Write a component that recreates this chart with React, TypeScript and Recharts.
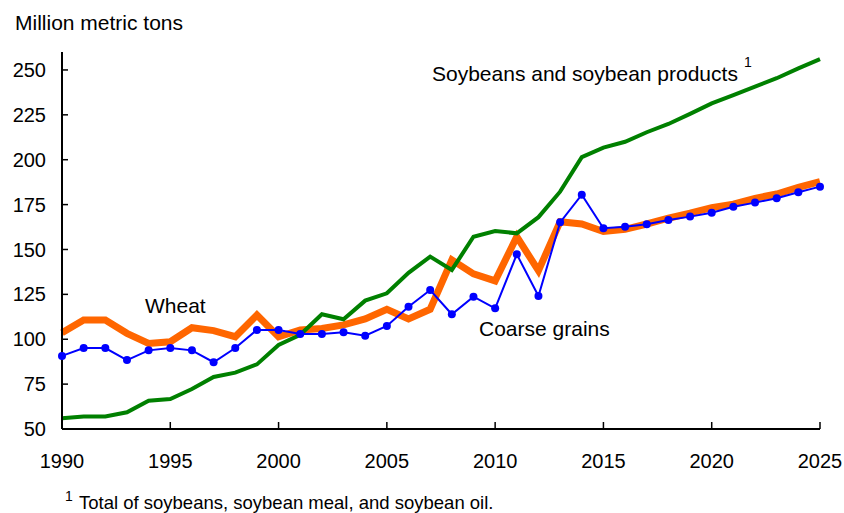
import React from "react";
import { LineChart, Line, XAxis, YAxis } from "recharts";

const years = [1990,1991,1992,1993,1994,1995,1996,1997,1998,1999,2000,2001,2002,2003,2004,2005,2006,2007,2008,2009,2010,2011,2012,2013,2014,2015,2016,2017,2018,2019,2020,2021,2022,2023,2024,2025];

const soybeans = [56,57,57,59.3,65.8,66.7,72.3,79,81.4,86,96.8,102.5,113.9,111.1,121.5,125.6,137,146,138.6,157.1,160.3,159,168,182.2,201.4,206.7,210,215.3,219.9,225.5,231.4,236,240.7,245.4,250.9,256];

const wheat = [103.6,110.7,110.7,103.3,97.7,98.6,106.4,104.8,101.4,113.5,101.4,105.2,106,108,111.3,116.7,111.3,116.7,144.2,136.4,132.5,157.1,138.2,165.5,164.2,160,161.2,164.2,167.4,170.2,173.3,175.2,178.5,180.9,184.6,187.8];

const coarseGrains = [90.7,95.1,95.1,88.4,93.8,95.1,93.8,87.2,95.1,105.2,105.2,102.9,102.9,103.9,102,107.4,118.1,127.4,113.9,123.7,117.2,147.3,124.1,165.1,180.5,161.8,162.7,164,166.4,168.3,170.5,173.8,176.1,178.5,181.9,185];

const xTicks = [1990,1995,2000,2005,2010,2015,2020,2025];
const yTicks = [50,75,100,125,150,175,200,225,250];

const data = years.map((y, i) => ({
  year: y,
  soybeans: soybeans[i],
  wheat: wheat[i],
  coarse: coarseGrains[i],
}));

const FONT = '"Liberation Sans", Arial, sans-serif';

export default function App() {
  return (
    <div style={{ position: "absolute", left: 0, top: 0, width: 844, height: 513, background: "#fff", fontFamily: FONT }}>
      <LineChart width={844} height={513} data={data} margin={{ top: 52, right: 24, bottom: 44, left: 12 }}>
        <XAxis
          dataKey="year"
          type="number"
          domain={[1990, 2025]}
          ticks={xTicks}
          height={40}
          tickSize={-7}
          tickMargin={32}
          axisLine={{ stroke: "#000", strokeWidth: 2 }}
          tickLine={{ stroke: "#000", strokeWidth: 1.5 }}
          tick={{ fill: "#000", fontSize: 20, fontFamily: FONT }}
          interval={0}
        />
        <YAxis
          type="number"
          domain={[50, 260]}
          ticks={yTicks}
          width={50}
          tickSize={-6}
          tickMargin={22}
          axisLine={{ stroke: "#000", strokeWidth: 2 }}
          tickLine={{ stroke: "#000", strokeWidth: 1.5 }}
          tick={{ fill: "#000", fontSize: 20, fontFamily: FONT }}
          interval={0}
          allowDataOverflow
        />
        <Line type="linear" dataKey="wheat" stroke="#FF6600" strokeWidth={7} dot={false} isAnimationActive={false} />
        <Line type="linear" dataKey="soybeans" stroke="#008000" strokeWidth={4} dot={false} isAnimationActive={false} />
        <Line type="linear" dataKey="coarse" stroke="#0000FF" strokeWidth={2} dot={{ r: 4, fill: "#0000FF", stroke: "none" }} isAnimationActive={false} />
      </LineChart>
      <svg width={844} height={513} style={{ position: "absolute", left: 0, top: 0, pointerEvents: "none" }}>
        <text x={15} y={30} fontSize={21} fontFamily={FONT} fill="#000">Million metric tons</text>
        <text x={145} y={313} fontSize={21} fontFamily={FONT} fill="#000">Wheat</text>
        <text x={479} y={336} fontSize={21} fontFamily={FONT} fill="#000">Coarse grains</text>
        <text x={432} y={81} fontSize={21} fontFamily={FONT} fill="#000">Soybeans and soybean products</text>
        <text x={744} y={67} fontSize={14} fontFamily={FONT} fill="#000">1</text>
        <text x={65} y={501} fontSize={14} fontFamily={FONT} fill="#000">1</text>
        <text x={79} y={509} fontSize={18.5} fontFamily={FONT} fill="#000">Total of soybeans, soybean meal, and soybean oil.</text>
      </svg>
    </div>
  );
}
